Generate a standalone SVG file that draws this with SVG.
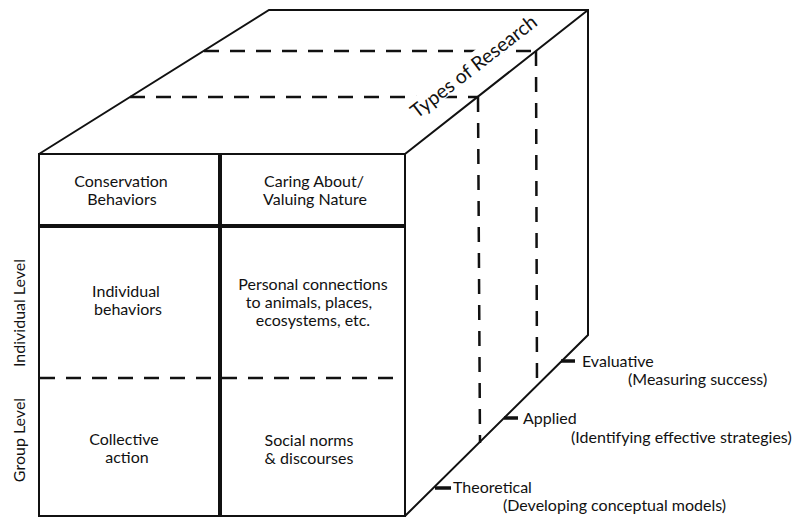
<svg xmlns="http://www.w3.org/2000/svg" width="797" height="518" viewBox="0 0 797 518">
<style>
  text { font-family: Lato, "Liberation Sans", sans-serif; font-size: 16px; fill: #111; }
  .c { text-anchor: middle; }
  .outline { fill: none; stroke: #111; stroke-width: 2; stroke-linejoin: miter; }
  .thick { fill: none; stroke: #111; stroke-width: 4; }
  .dash { fill: none; stroke: #111; stroke-width: 2.5; stroke-dasharray: 15 11; }
  .tick { stroke: #111; stroke-width: 3.5; }
</style>
<rect width="797" height="518" fill="#fff"/>
<g id="connectors">
  <line class="dash" x1="204" y1="51" x2="536" y2="51"/>
  <line class="dash" x1="130" y1="97" x2="478" y2="97"/>
  <line class="dash" x1="478" y1="97" x2="480" y2="443"/>
  <line class="dash" x1="536" y1="51" x2="537" y2="386"/>
  <line class="dash" x1="40" y1="378" x2="405" y2="378"/>
</g>
<g id="types-label">
  <g transform="translate(417,119) rotate(-37.8)">
    <rect x="-3" y="-19" width="125" height="20" fill="#fff"/>
    <text x="0" y="0" style="font-size:19.5px">Types of Research</text>
  </g>
</g>
<g id="cube">
  <path class="outline" d="M39,154 L269,10 L588,10 L588,335 L405,516 M405,154 L588,10"/>
  <rect class="outline" x="39" y="154" width="366" height="362"/>
  <line class="thick" x1="220" y1="154" x2="220" y2="516"/>
  <line class="thick" x1="39" y1="226" x2="405" y2="226"/>
</g>
<g id="ticks">
  <line class="tick" x1="561" y1="361" x2="575" y2="361"/>
  <line class="tick" x1="504" y1="418" x2="518" y2="418"/>
  <line class="tick" x1="435" y1="488" x2="451" y2="488"/>
</g>
<g id="header-conservation">
  <text class="c" x="121" y="187">Conservation</text>
  <text class="c" x="122" y="205">Behaviors</text>
</g>
<g id="header-caring">
  <text class="c" x="314" y="187">Caring About/</text>
  <text class="c" x="315" y="205">Valuing Nature</text>
</g>
<g id="cell-individual-behaviors">
  <text class="c" x="126" y="297">Individual</text>
  <text class="c" x="128" y="315">behaviors</text>
</g>
<g id="cell-personal-connections">
  <text class="c" x="313" y="290">Personal connections</text>
  <text class="c" x="309" y="308">to animals, places,</text>
  <text class="c" x="313" y="326">ecosystems, etc.</text>
</g>
<g id="cell-collective-action">
  <text class="c" x="124" y="445">Collective</text>
  <text class="c" x="127" y="463">action</text>
</g>
<g id="cell-social-norms">
  <text class="c" x="309" y="446">Social norms</text>
  <text class="c" x="309" y="464">&amp; discourses</text>
</g>
<g id="row-labels">
  <text class="c" transform="translate(25,313) rotate(-90)">Individual Level</text>
  <text class="c" transform="translate(25,440) rotate(-90)">Group Level</text>
</g>
<g id="label-evaluative">
  <text x="582" y="367">Evaluative</text>
  <text x="628" y="385">(Measuring success)</text>
</g>
<g id="label-applied">
  <text x="523" y="424">Applied</text>
  <text x="571" y="443">(Identifying effective strategies)</text>
</g>
<g id="label-theoretical">
  <text x="453" y="493">Theoretical</text>
  <text x="503" y="511">(Developing conceptual models)</text>
</g>
</svg>
